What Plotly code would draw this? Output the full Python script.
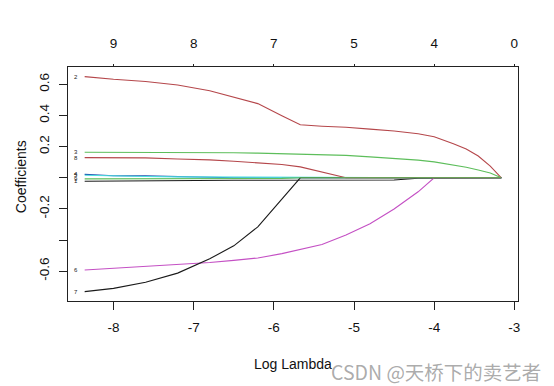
import plotly.graph_objects as go

# log(lambda) grid
log_lambda = [-8.36, -8.0, -7.6, -7.2, -6.8, -6.5, -6.2, -5.9, -5.67, -5.4, -5.1,
              -4.8, -4.5, -4.2, -4.0, -3.76, -3.6, -3.45, -3.3, -3.162]

# coefficient paths (variables 1..9)
coef_1 = [-0.022, -0.020, -0.019, -0.018, -0.017, -0.016, -0.016, -0.015, -0.015, -0.015, -0.014,
          -0.014, -0.014, -0.003, -0.003, -0.002, 0.0, 0.0, 0.0, 0.0]
coef_2 = [0.649, 0.632, 0.618, 0.595, 0.559, 0.519, 0.476, 0.398, 0.340, 0.331, 0.324,
          0.312, 0.300, 0.283, 0.263, 0.219, 0.185, 0.140, 0.075, 0.0]
coef_3 = [0.164, 0.164, 0.164, 0.164, 0.163, 0.161, 0.158, 0.154, 0.152, 0.148, 0.144,
          0.134, 0.124, 0.113, 0.102, 0.084, 0.068, 0.050, 0.030, 0.0]
coef_4 = [0.022, 0.013, 0.012, 0.006, 0.004, 0.0, 0.0, 0.0, 0.0, 0.0, 0.0,
          0.0, 0.0, 0.0, 0.0, 0.0, 0.0, 0.0, 0.0, 0.0]
coef_5 = [0.016, 0.010, 0.008, 0.006, 0.005, 0.004, 0.004, 0.003, 0.0, 0.0, 0.0,
          0.0, 0.0, 0.0, 0.0, 0.0, 0.0, 0.0, 0.0, 0.0]
coef_6 = [-0.592, -0.582, -0.570, -0.558, -0.544, -0.530, -0.515, -0.487, -0.462, -0.428, -0.367,
          -0.295, -0.200, -0.090, 0.0, 0.0, 0.0, 0.0, 0.0, 0.0]
coef_7 = [-0.731, -0.710, -0.671, -0.612, -0.520, -0.437, -0.315, -0.140, 0.0, 0.0, 0.0,
          0.0, 0.0, 0.0, 0.0, 0.0, 0.0, 0.0, 0.0, 0.0]
coef_8 = [0.129, 0.129, 0.128, 0.120, 0.115, 0.106, 0.097, 0.085, 0.070, 0.038, 0.0,
          0.0, 0.0, 0.0, 0.0, 0.0, 0.0, 0.0, 0.0, 0.0]
coef_9 = [-0.007, -0.007, -0.007, -0.006, -0.006, -0.006, -0.005, -0.004, 0.0, 0.0, 0.0,
          0.0, 0.0, 0.0, 0.0, 0.0, 0.0, 0.0, 0.0, 0.0]

var_names = ["1", "2", "3", "4", "5", "6", "7", "8", "9"]
paths = [coef_1, coef_2, coef_3, coef_4, coef_5, coef_6, coef_7, coef_8, coef_9]

# bottom / top axes
x_ticks = [-8, -7, -6, -5, -4, -3]
df_labels = ["9", "8", "7", "5", "4", "0"]
y_ticks = [-0.6, -0.4, -0.2, 0.0, 0.2, 0.4, 0.6]
y_ticktext = ["-0.6", "", "-0.2", "", "0.2", "0.4", "0.6"]

palette = ["#1a1a1a", "#B5474B", "#5DBE5B", "#1F4FB0", "#4FE0E0", "#C450C4"]
colors = [palette[i % 6] for i in range(len(paths))]

FONT = "Liberation Sans, Arial, sans-serif"

fig = go.Figure()
for name, ys, c in zip(var_names, paths, colors):
    fig.add_trace(go.Scatter(x=log_lambda, y=ys, mode="lines",
                             line=dict(color=c, width=1.1), name=name,
                             showlegend=False, hoverinfo="skip"))

# invisible trace to anchor the top axis
fig.add_trace(go.Scatter(x=[log_lambda[0]], y=[0], xaxis="x2", mode="markers",
                         marker=dict(opacity=0), showlegend=False, hoverinfo="skip"))

# variable labels at the left end of each path
annotations = []
for name, ys in zip(var_names, paths):
    annotations.append(dict(x=log_lambda[0], y=ys[0], text=name, showarrow=False,
                            xanchor="right", yanchor="middle", xshift=-5,
                            font=dict(size=6, color="#222", family=FONT)))

annotations += [
    dict(x=0.5, y=-0.269, xref="paper", yref="paper", text="Log Lambda", showarrow=False,
         xanchor="center", yanchor="middle", font=dict(size=14, color="#111", family=FONT)),
    dict(x=-0.104, y=0.53, xref="paper", yref="paper", text="Coefficients", showarrow=False,
         textangle=-90, xanchor="center", yanchor="middle",
         font=dict(size=14, color="#111", family=FONT)),
    dict(x=1.056, y=-0.303, xref="paper", yref="paper", text="CSDN @天桥下的卖艺者",
         showarrow=False, xanchor="right", yanchor="middle",
         font=dict(size=19.5, color="rgba(150,150,150,0.8)", family="Noto Sans CJK SC")),
]

fig.update_layout(
    width=554, height=386,
    margin=dict(l=68, r=36, t=67, b=85, autoexpand=False),
    paper_bgcolor="white", plot_bgcolor="white",
    font=dict(family=FONT, size=13, color="#111"),
    annotations=annotations,
    xaxis=dict(range=[-8.568, -2.954], tickvals=x_ticks, ticktext=[str(v) for v in x_ticks],
               showgrid=False, zeroline=False, showline=True, linecolor="#222", linewidth=1,
               mirror=True, ticks="outside", ticklen=8, tickcolor="#222", automargin=False,
               ticklabelstandoff=6, tickfont=dict(size=13.5)),
    xaxis2=dict(range=[-8.568, -2.954], overlaying="x", side="top", anchor="y",
                tickvals=x_ticks, ticktext=df_labels, showgrid=False, zeroline=False,
                showline=False, ticks="outside", ticklen=2, tickcolor="#222", automargin=False,
                ticklabelstandoff=11, tickfont=dict(size=13.5)),
    yaxis=dict(range=[-0.791, 0.711], tickvals=y_ticks, ticktext=y_ticktext,
               showgrid=False, zeroline=False, showline=True, linecolor="#222", linewidth=1,
               mirror=True, ticks="outside", ticklen=8, tickcolor="#222", automargin=False,
               tickangle=-90, ticklabelstandoff=5, tickfont=dict(size=13.5)),
)

fig.write_html("out.html", config={"displayModeBar": False},
               post_script="document.body.style.margin='0';document.body.style.padding='0';")
